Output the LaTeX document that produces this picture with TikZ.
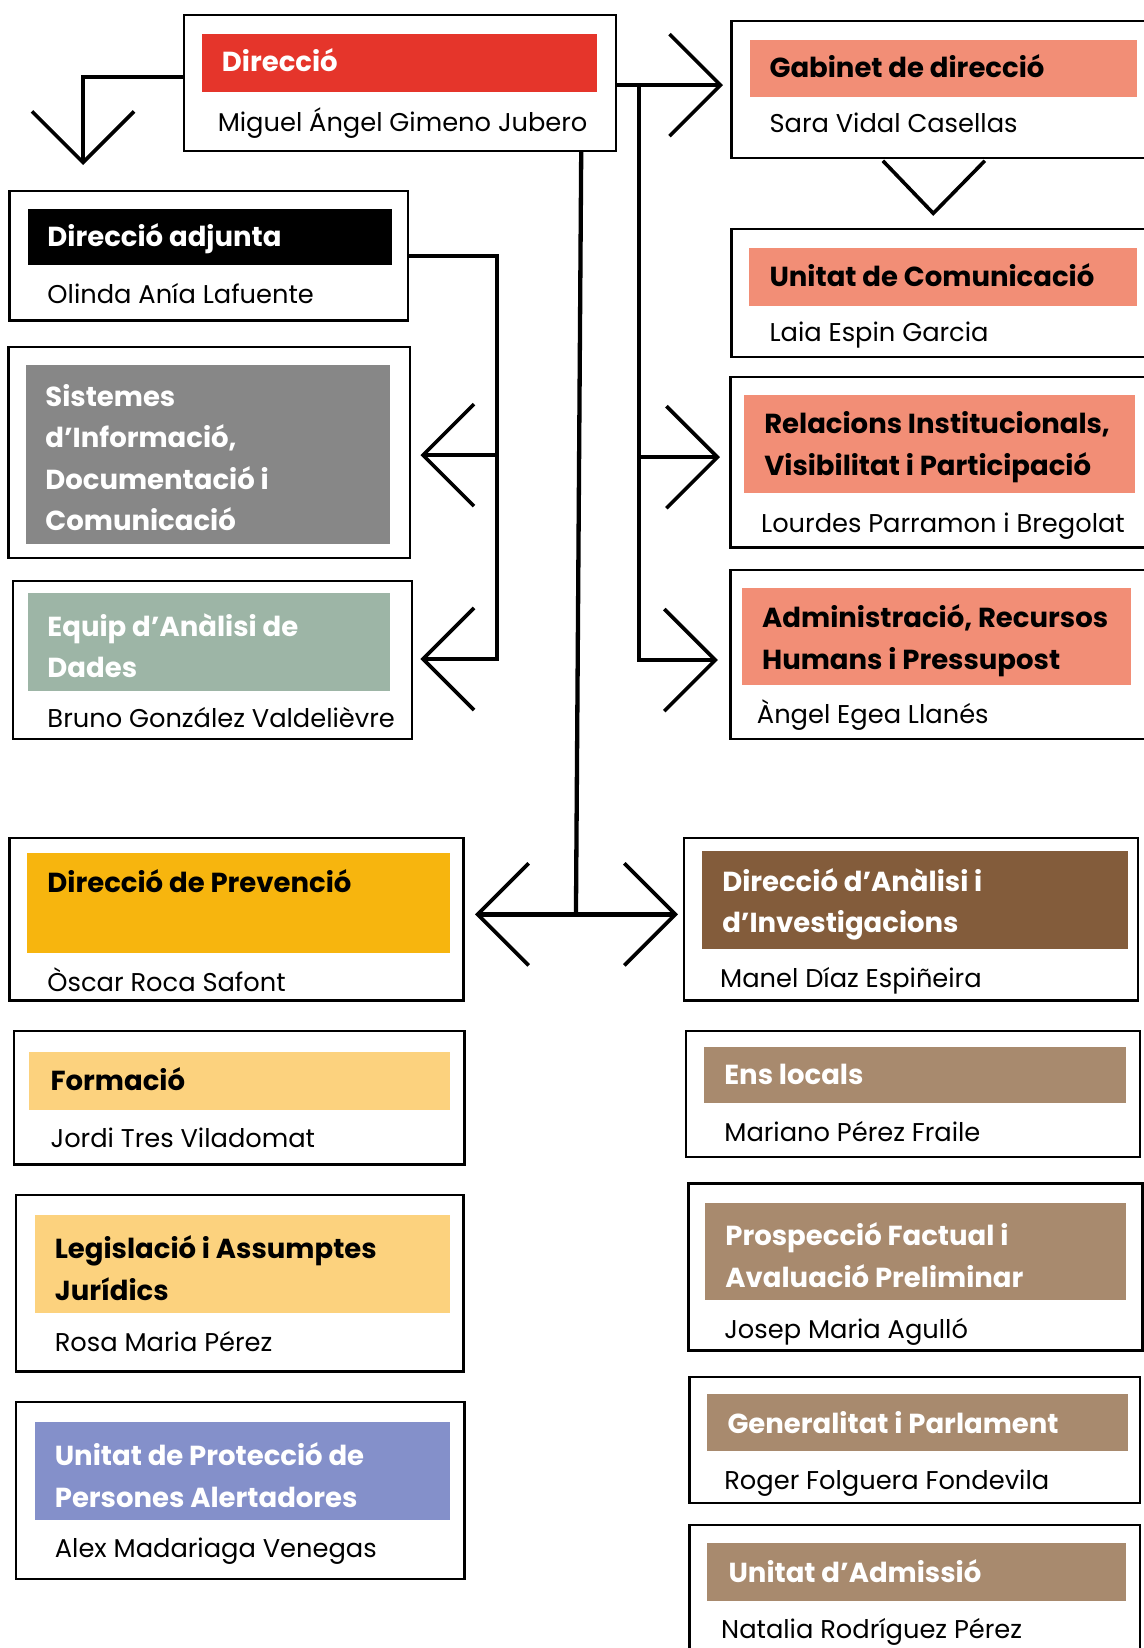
\documentclass[tikz,border=0pt]{standalone}
\usepackage{fontspec}
\setmainfont{Poppins}
\usetikzlibrary{fit,arrows.meta,calc}
\definecolor{cred}{HTML}{E5352B}
\definecolor{csalmon}{HTML}{F28E76}
\definecolor{cgray}{HTML}{878787}
\definecolor{csage}{HTML}{9DB5A6}
\definecolor{cyellow}{HTML}{F7B50E}
\definecolor{cdbrown}{HTML}{835C3B}
\definecolor{clyellow}{HTML}{FCD27E}
\definecolor{clav}{HTML}{8490CA}
\definecolor{ctan}{HTML}{A88A6E}
\tikzset{
  obox/.style={draw=black, line width=2.2pt, inner sep=0pt, fill=white},
  bar/.style={draw=none, inner sep=0pt},
  ttl/.style={inner sep=0pt, align=left, font=\fontsize{27.5}{41.5}\selectfont\bfseries},
  ttl1/.style={ttl, anchor=mid west, yshift=-6.5pt},
  ttl2/.style={ttl, anchor=west, yshift=-2.5pt},
  nm/.style={anchor=mid west, inner sep=0pt, yshift=-6pt, font=\fontsize{25.7}{30}\selectfont},
  conn/.style={line width=4.3pt},
  chevline/.style={line width=3.6pt},
  chevtip/.tip={Straight Barb[length=51pt, width=102pt, line width=3.6pt]}
}
\begin{document}
\begin{tikzpicture}[x=1.0506pt,y=-1.0506pt]
\useasboundingbox (0,0) rectangle (1088,1568);
\fill[white] (0,0) rectangle (1088,1568);

% ---------- boxes ----------
\node[obox, fit={(175,14) (586,144)}] (dir) {};
\node[bar, fill=cred, fit={(192,32) (568,88)}] (dirb) {};
\node[ttl1, text=white] (dirt) at (211,59) {Direcció};
\node[nm] (dirn) at (207,117) {Miguel Ángel Gimeno Jubero};

\node[obox, fit={(9,182) (388,305)}] (adj) {};
\node[bar, fill=black, fit={(27,199) (373,252)}] (adjb) {};
\node[ttl1, text=white] (adjt) at (45,226) {Direcció adjunta};
\node[nm] (adjn) at (45,280) {Olinda Anía Lafuente};

\node[obox, fit={(8,330) (390,531)}] (sis) {};
\node[bar, fill=cgray, fit={(25,347) (371,518)}] (sisb) {};
\node[ttl2, text=white] (sist) at (43,433) {Sistemes\\d’Informació,\\Documentació i\\Comunicació};

\node[obox, fit={(12,553) (392,703)}] (eq) {};
\node[bar, fill=csage, fit={(27,564) (371,657)}] (eqb) {};
\node[ttl2, text=white] (eqt) at (45,612) {Equip d’Anàlisi de\\Dades};
\node[nm] (eqn) at (45,684) {Bruno González Valdelièvre};

\node[obox, fit={(696,20) (1100,150)}] (gab) {};
\node[bar, fill=csalmon, fit={(714,38) (1082,92)}] (gabb) {};
\node[ttl1] (gabt) at (732,65) {Gabinet de direcció};
\node[nm] (gabn) at (732,118) {Sara Vidal Casellas};

\node[obox, fit={(696,218) (1100,340)}] (com) {};
\node[bar, fill=csalmon, fit={(713,236) (1082,291)}] (comb) {};
\node[ttl1] (comt) at (732,264) {Unitat de Comunicació};
\node[nm] (comn) at (732,317) {Laia Espin Garcia};

\node[obox, fit={(695,359) (1100,521)}] (rel) {};
\node[bar, fill=csalmon, fit={(708,376) (1080,469)}] (relb) {};
\node[ttl2] (relt) at (727,423) {Relacions Institucionals,\\Visibilitat i Participació};
\node[nm] (reln) at (724,498) {Lourdes Parramon i Bregolat};

\node[obox, fit={(695,542) (1100,703)}] (adm) {};
\node[bar, fill=csalmon, fit={(706,559) (1076,652)}] (admb) {};
\node[ttl2] (admt) at (725,607) {Administració, Recursos\\Humans i Pressupost};
\node[nm] (admn) at (720,680) {Àngel Egea Llanés};

\node[obox, fit={(9,797) (441,952)}] (prev) {};
\node[bar, fill=cyellow, fit={(26,812) (428,907)}] (prevb) {};
\node[ttl1] (prevt) at (45,840) {Direcció de Prevenció};
\node[nm] (prevn) at (45,935) {Òscar Roca Safont};

\node[obox, fit={(651,797) (1083,952)}] (ana) {};
\node[bar, fill=cdbrown, fit={(668,810) (1073,903)}] (anab) {};
\node[ttl2, text=white] (anat) at (687,858) {Direcció d’Anàlisi i\\d’Investigacions};
\node[nm] (anan) at (685,931) {Manel Díaz Espiñeira};

\node[obox, fit={(13,981) (442,1108)}] (form) {};
\node[bar, fill=clyellow, fit={(28,1001) (428,1056)}] (formb) {};
\node[ttl1] (formt) at (48,1029) {Formació};
\node[nm] (formn) at (48,1083) {Jordi Tres Viladomat};

\node[obox, fit={(15,1137) (441,1305)}] (leg) {};
\node[bar, fill=clyellow, fit={(33,1156) (428,1249)}] (legb) {};
\node[ttl2] (legt) at (52,1204) {Legislació i Assumptes\\Jurídics};
\node[nm] (legn) at (52,1278) {Rosa Maria Pérez};

\node[obox, fit={(15,1334) (442,1502)}] (prot) {};
\node[bar, fill=clav, fit={(33,1353) (428,1446)}] (protb) {};
\node[ttl2, text=white] (prott) at (52,1401) {Unitat de Protecció de\\Persones Alertadores};
\node[nm] (protn) at (52,1474) {Alex Madariaga Venegas};

\node[obox, fit={(653,981) (1085,1101)}] (ens) {};
\node[bar, fill=ctan, fit={(670,996) (1071,1049)}] (ensb) {};
\node[ttl1, text=white] (enst) at (689,1023) {Ens locals};
\node[nm] (ensn) at (689,1078) {Mariano Pérez Fraile};

\node[obox, fit={(655,1126) (1087,1285)}] (pros) {};
\node[bar, fill=ctan, fit={(671,1145) (1071,1237)}] (prosb) {};
\node[ttl2, text=white] (prost) at (690,1192) {Prospecció Factual i\\Avaluació Preliminar};
\node[nm] (prosn) at (689,1265) {Josep Maria Agulló};

\node[obox, fit={(656,1310) (1085,1430)}] (gen) {};
\node[bar, fill=ctan, fit={(673,1326) (1073,1381)}] (genb) {};
\node[ttl1, text=white] (gent) at (692,1355) {Generalitat i Parlament};
\node[nm] (genn) at (689,1409) {Roger Folguera Fondevila};

\node[obox, fit={(656,1451) (1085,1590)}] (admi) {};
\node[bar, fill=ctan, fit={(673,1468) (1071,1523)}] (admib) {};
\node[ttl1, text=white] (admit) at (693,1497) {Unitat d’Admissió};
\node[nm] (admin) at (686,1551) {Natalia Rodríguez Pérez};

% ---------- connector points ----------
\coordinate (tA) at (79,157);
\coordinate (tB) at (688,81);
\coordinate (rT) at (608,81);
\coordinate (rM) at (608,435);
\coordinate (tR1) at (685,435);
\coordinate (tR2) at (683,628);
\coordinate (lC) at (473,627);
\coordinate (lM) at (473,433);
\coordinate (tL1) at (400,433);
\coordinate (tL2) at (400,627);
\coordinate (cT) at (553,144);
\coordinate (cB) at (548,868);
\coordinate (tC1) at (452,870);
\coordinate (tC2) at (645,870);
\coordinate (tD) at (888,203);

% ---------- connectors ----------
\draw[conn,-chevtip] ([yshift=6.3pt]dir.west) -| (tA);
\draw[conn,-chevtip] (dir.east |- tB) -- (tB);
\draw[conn,-chevtip] (rT) |- (tR2);
\draw[conn,-chevtip] (rM) -- (tR1);
\draw[conn,-chevtip] (adj.east) -| (lC) -- (tL2);
\draw[conn,-chevtip] (lM) -- (tL1);
\draw[conn] (cT) -- (cB);
\draw[conn,chevtip-chevtip] (tC1) -- (tC2);
\draw[chevline] (tD) ++(-48,-50) -- (tD) -- ++(49,-50);
\end{tikzpicture}
\end{document}
